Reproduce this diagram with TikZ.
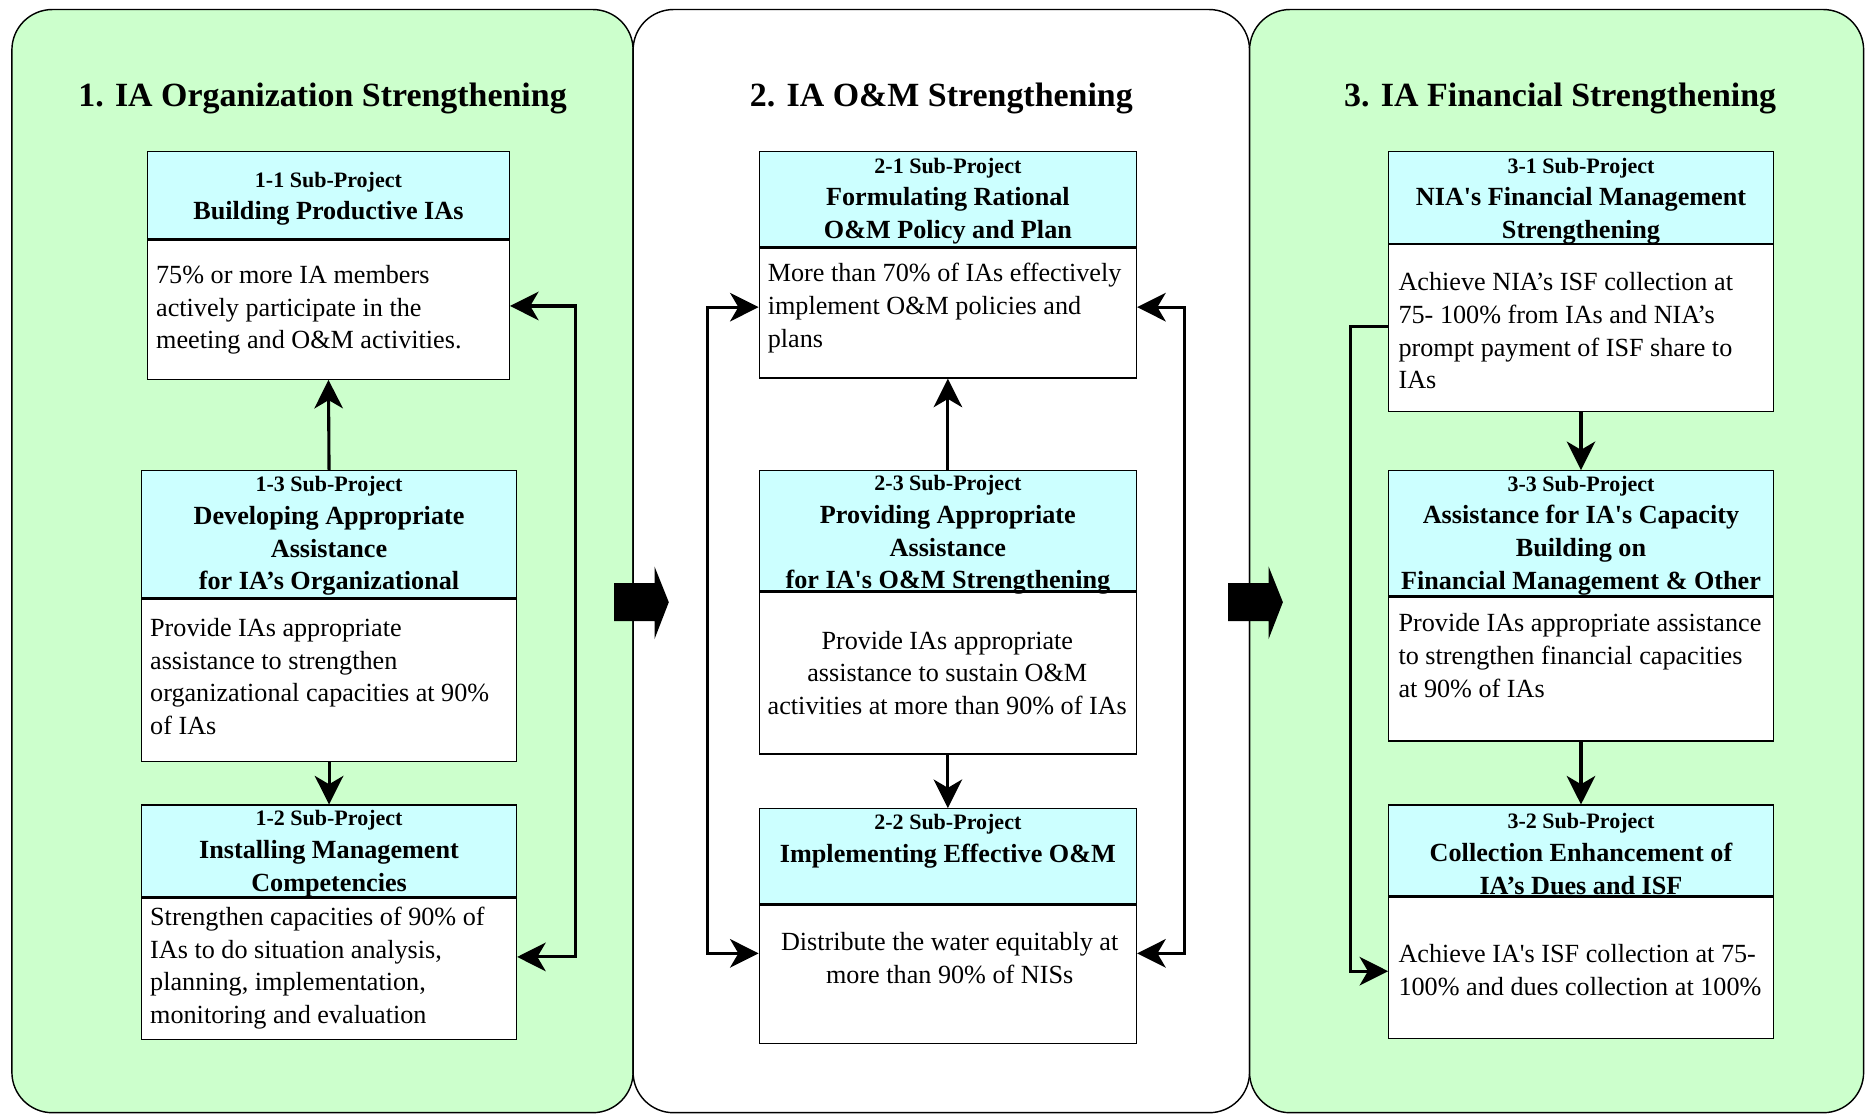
\documentclass[tikz,border=0pt]{standalone}
\usepackage{fontspec}
\setmainfont{Liberation Serif}[Ligatures=TeXOff]
\usetikzlibrary{arrows.meta}

\definecolor{panelgreen}{HTML}{CCFFCC}
\definecolor{headcyan}{HTML}{CCFFFF}

% first (smaller) line of a sub-project header
\newcommand\sptag[1]{{\fontsize{18.5}{27.5}\selectfont #1}\\}

% header + body rectangles of one sub-project: name, centre x, top y, width, header height, body height
\newcommand\spbox[6]{%
  \node[headbox, minimum width=#4, minimum height=#5] (h#1) at (#2,#3) {};
  \node[bodybox, minimum width=#4, minimum height=#6] (b#1) at (h#1.south) {};
}

\begin{document}
\begin{tikzpicture}[x=1pt,y=-1pt,
  panel/.style={draw=black, line width=1.2pt, rounded corners=34pt},
  paneltitle/.style={inner sep=0pt, yshift=-3pt, font=\fontsize{28.5}{34}\selectfont\bfseries},
  headbox/.style={draw=black, line width=1.1pt, fill=headcyan, anchor=north, inner sep=0pt},
  bodybox/.style={draw=black, line width=1.1pt, fill=white, anchor=north, inner sep=0pt},
  headtext/.style={inner sep=0pt, yshift=-3pt, align=center, font=\fontsize{22}{27.5}\selectfont\bfseries},
  bodytext/.style={inner sep=0pt, yshift=-2.5pt, align=left, anchor=west, font=\fontsize{22}{27.5}\selectfont},
  bodytextc/.style={inner sep=0pt, yshift=-2.5pt, align=center, font=\fontsize{22}{27.5}\selectfont},
  tip/.tip={Stealth[length=24pt,width=24pt,inset=7pt]},
  flow/.style={line width=2.6pt, -tip},
  flowboth/.style={line width=2.6pt, tip-tip},
  blockarrow/.style={fill=black}
]
\useasboundingbox (0,0) rectangle (1568,936);
\fill[white] (0,0) rectangle (1568,936);

% the three phases
\draw[panel, fill=panelgreen] (10,8) rectangle (532,935);
\draw[panel, fill=white] (532,8) rectangle (1050,935);
\draw[panel, fill=panelgreen] (1050,8) rectangle (1566,935);

\node[paneltitle] (title1) at (271,80) {1. IA Organization Strengthening};
\node[paneltitle] (title2) at (791,80) {2. IA O\&M Strengthening};
\node[paneltitle] (title3) at (1311,80) {3. IA Financial Strengthening};

% block arrows between phases
\fill[blockarrow] (516,490) -- (550,490) -- (550,476) -- (562,506) -- (550,537) -- (550,522) -- (516,522) -- cycle;
\fill[blockarrow] (1032,490) -- (1066,490) -- (1066,476) -- (1078,506) -- (1066,537) -- (1066,522) -- (1032,522) -- cycle;

% ---- phase 1 ----
\spbox{11}{276}{127}{304}{73}{117}
\spbox{13}{276.5}{395}{315}{107}{136}
\spbox{12}{276.5}{676}{315}{77}{119}

\node[headtext] (h11t) at (276,164) {\sptag{1-1 Sub-Project}Building Productive IAs};
\node[bodytext] (b11t) at (131,258) {75\% or more IA members\\actively participate in the\\meeting and O\&M activities.};

\node[headtext] (h13t) at (276.5,447.5) {\sptag{1-3 Sub-Project}Developing Appropriate\\Assistance\\for IA’s Organizational};
\node[bodytext] (b13t) at (126,566) {Provide IAs appropriate\\assistance to strengthen\\organizational capacities at 90\%\\of IAs};

\node[headtext] (h12t) at (276.5,714.5) {\sptag{1-2 Sub-Project}Installing Management\\Competencies};
\node[bodytext] (b12t) at (126,811) {Strengthen capacities of 90\% of\\IAs to do situation analysis,\\planning, implementation,\\monitoring and evaluation};

\draw[flow] (h13.north) -- (b11.south);
\draw[flow] (b13.south) -- (h12.north);
\draw[flowboth] ([yshift=-56pt]b11.north east) -- ++(55,0) |- ([yshift=-50pt]b12.north east);

% ---- phase 2 ----
\spbox{21}{796.5}{127}{317}{80}{109}
\spbox{23}{796.5}{395}{317}{101}{136}
\spbox{22}{796.5}{679}{317}{80}{116}

\node[headtext] (h21t) at (796.5,166) {\sptag{2-1 Sub-Project}Formulating Rational\\O\&M Policy and Plan};
\node[bodytext] (b21t) at (645,256.5) {More than 70\% of IAs effectively\\implement O\&M policies and\\plans};

\node[headtext] (h23t) at (796.5,446.5) {\sptag{2-3 Sub-Project}Providing Appropriate\\Assistance\\for IA's O\&M Strengthening};
\node[bodytextc] (b23t) at (796,563) {Provide IAs appropriate\\assistance to sustain O\&M\\activities at more than 90\% of IAs};

\node[headtext] (h22t) at (796.5,704) {\sptag{2-2 Sub-Project}Implementing Effective O\&M};
\node[bodytextc] (b22t) at (798,802.5) {Distribute the water equitably at\\more than 90\% of NISs};

\draw[flow] (h23.north) -- (b21.south);
\draw[flow] (b23.south) -- (h22.north);
\draw[flowboth] ([yshift=-50pt]b21.north west) -- ++(-43,0) |- ([yshift=-41pt]b22.north west);
\draw[flowboth] ([yshift=-50pt]b21.north east) -- ++(40,0) |- ([yshift=-41pt]b22.north east);

% ---- phase 3 ----
\spbox{31}{1328.5}{127}{323}{77}{140}
\spbox{33}{1328.5}{395}{323}{105}{121}
\spbox{32}{1328.5}{676}{323}{76}{119}

\node[headtext] (h31t) at (1328.5,166) {\sptag{3-1 Sub-Project}NIA's Financial Management\\Strengthening};
\node[bodytext] (b31t) at (1175,275.5) {Achieve NIA’s ISF collection at\\75- 100\% from IAs and NIA’s\\prompt payment of ISF share to\\IAs};

\node[headtext] (h33t) at (1328.5,447) {\sptag{3-3 Sub-Project}Assistance for IA's Capacity\\Building on\\Financial Management \& Other};
\node[bodytext] (b33t) at (1175,548.5) {Provide IAs appropriate assistance\\to strengthen financial capacities\\at 90\% of IAs};

\node[headtext] (h32t) at (1328.5,714.5) {\sptag{3-2 Sub-Project}Collection Enhancement of\\IA’s Dues and ISF};
\node[bodytext] (b32t) at (1175,812.5) {Achieve IA's ISF collection at 75-\\100\% and dues collection at 100\%};

\draw[flow] (b31.south) -- (h33.north);
\draw[flow] (b33.south) -- (h32.north);
\draw[flow] ([yshift=-69pt]b31.north west) -- ++(-32,0) |- ([yshift=-63pt]b32.north west);
\end{tikzpicture}
\end{document}
